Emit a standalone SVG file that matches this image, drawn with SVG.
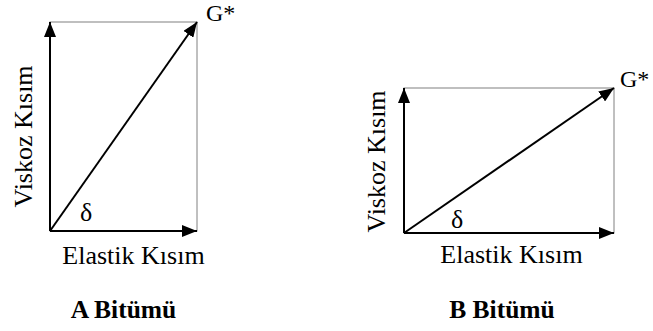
<svg xmlns="http://www.w3.org/2000/svg" width="653" height="331" viewBox="0 0 653 331">
<style>
.frame{fill:none;stroke:#808080;stroke-width:1}
.arr{stroke:#000;stroke-width:2;fill:none;marker-end:url(#ah)}
text{font-family:'Liberation Serif','DejaVu Serif','Noto Serif',serif;font-size:26px;fill:#000}
.b{font-weight:bold;font-size:25.5px}
.g{font-size:24px}
</style>
<defs>
<marker id="ah" markerUnits="userSpaceOnUse" markerWidth="16" markerHeight="12" refX="15" refY="6" orient="auto" viewBox="0 0 16 12">
<path d="M0,0 L15,6 L0,12 z" fill="#000"/>
</marker>
</defs>
<rect width="653" height="331" fill="#fff"/>
<g id="diagramA">
<rect class="frame" x="50" y="22" width="147" height="209"/>
<g id="connectorsA">
<line class="arr" x1="50" y1="231" x2="50" y2="22"/>
<line class="arr" x1="50" y1="231" x2="197" y2="231"/>
<line class="arr" x1="50" y1="231" x2="197" y2="22"/>
</g>
<text class="g" x="206" y="21">G*</text>
<text x="80" y="221">δ</text>
<text x="133.5" y="264" text-anchor="middle">Elastik Kısım</text>
<text transform="translate(32,136.5) rotate(-90)" text-anchor="middle">Viskoz Kısım</text>
<text class="b" x="123.5" y="318" text-anchor="middle">A Bitümü</text>
</g>
<g id="diagramB">
<rect class="frame" x="404" y="88" width="210" height="145"/>
<g id="connectorsB">
<line class="arr" x1="404" y1="233" x2="404" y2="88"/>
<line class="arr" x1="404" y1="233" x2="614" y2="233"/>
<line class="arr" x1="404" y1="233" x2="614" y2="88"/>
</g>
<text class="g" x="620" y="87">G*</text>
<text x="451" y="228">δ</text>
<text x="511.5" y="263" text-anchor="middle">Elastik Kısım</text>
<text transform="translate(385,161.5) rotate(-90)" text-anchor="middle">Viskoz Kısım</text>
<text class="b" x="502" y="318" text-anchor="middle">B Bitümü</text>
</g>
</svg>
